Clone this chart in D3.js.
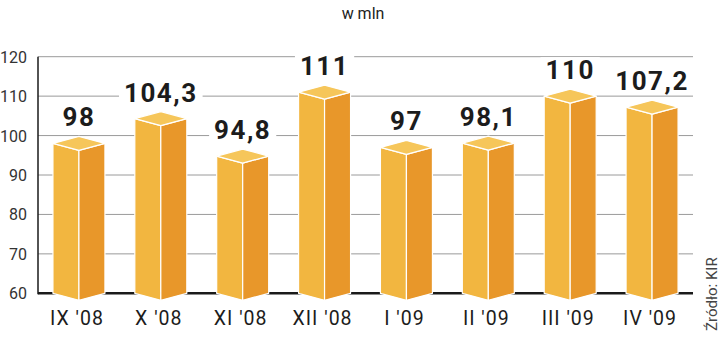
<!DOCTYPE html>
<html>
<head>
<meta charset="utf-8">
<script src="https://cdn.jsdelivr.net/npm/d3@7"></script>
<style>
	body { margin: 0; background: #fff; }
	svg { display: block; font-family: Roboto, "Liberation Sans", sans-serif; }
</style>
</head>
<body>
<script>
var months = ["IX '08", "X '08", "XI '08", "XII '08", "I '09", "II '09", "III '09", "IV '09"];
var values = [98, 104.3, 94.8, 111, 97, 98.1, 110, 107.2];
var valueLabels = ["98", "104,3", "94,8", "111", "97", "98,1", "110", "107,2"];
var yTicks = [60, 70, 80, 90, 100, 110, 120];

var width = 720, height = 339;
var plotLeft = 38, plotRight = 693, plotTop = 56.7, plotBottom = 293.3;
var halfW = 26, depth = 7;

var svg = d3.select('body')
	.append('svg')
	.attr('width', width)
	.attr('height', height);

var xScale = d3.scaleBand()
	.domain(months)
	.range([plotLeft, plotRight]);

var yScale = d3.scaleLinear()
	.domain([60, 120])
	.range([plotBottom, plotTop]);

// title
svg.append('text')
	.attr('x', 363)
	.attr('y', 19)
	.attr('text-anchor', 'middle')
	.attr('font-size', 16)
	.attr('fill', '#222')
	.text('w mln');

// grid lines
svg.selectAll('.grid')
	.data(yTicks.filter(function(d) { return d > 60; }))
	.enter()
	.append('line')
	.attr('x1', plotLeft)
	.attr('x2', plotRight)
	.attr('y1', function(d) { return yScale(d); })
	.attr('y2', function(d) { return yScale(d); })
	.attr('stroke', '#9a9a9a')
	.attr('stroke-width', 1);

svg.append('line')
	.attr('x1', plotLeft)
	.attr('x2', plotRight)
	.attr('y1', plotBottom)
	.attr('y2', plotBottom)
	.attr('stroke', '#1a1a1a')
	.attr('stroke-width', 2.5);

svg.append('line')
	.attr('x1', plotLeft)
	.attr('x2', plotLeft)
	.attr('y1', plotTop)
	.attr('y2', plotBottom + 1)
	.attr('stroke', '#1a1a1a')
	.attr('stroke-width', 1.5);

svg.selectAll('.ytick')
	.data(yTicks)
	.enter()
	.append('text')
	.attr('x', 27)
	.attr('y', function(d) { return yScale(d) + 6; })
	.attr('text-anchor', 'end')
	.attr('font-size', 16)
	.attr('fill', '#333')
	.text(function(d) { return d; });

// bars
var bars = svg.selectAll('.bar')
	.data(values)
	.enter()
	.append('g')
	.attr('class', 'bar');

function cx(i) { return xScale(months[i]) + xScale.bandwidth() / 2; }

bars.append('path')
	.attr('fill', '#f2b640')
	.attr('d', function(d, i) {
		var c = cx(i), t = yScale(d);
		return 'M' + (c - halfW) + ',' + t + 'L' + c + ',' + (t + depth) +
			'L' + c + ',' + (plotBottom + depth) + 'L' + (c - halfW) + ',' + plotBottom + 'Z';
	});

bars.append('path')
	.attr('fill', '#e8972a')
	.attr('d', function(d, i) {
		var c = cx(i), t = yScale(d);
		return 'M' + c + ',' + (t + depth) + 'L' + (c + halfW) + ',' + t +
			'L' + (c + halfW) + ',' + plotBottom + 'L' + c + ',' + (plotBottom + depth) + 'Z';
	});

bars.append('path')
	.attr('fill', '#f6c65a')
	.attr('d', function(d, i) {
		var c = cx(i), t = yScale(d);
		return 'M' + (c - halfW) + ',' + t + 'L' + c + ',' + (t + depth) +
			'L' + (c + halfW) + ',' + t + 'L' + c + ',' + (t - depth) + 'Z';
	});

bars.selectAll('path')
	.attr('stroke', '#fff')
	.attr('stroke-width', 1.2)
	.attr('stroke-linejoin', 'round');

// value labels with white backing
var labels = svg.selectAll('.vlabel')
	.data(values)
	.enter()
	.append('g');

labels.append('rect').attr('fill', '#fff');

labels.append('text')
	.attr('x', function(d, i) { return cx(i); })
	.attr('y', function(d) { return yScale(d) - 17; })
	.attr('text-anchor', 'middle')
	.attr('font-size', 26)
	.attr('font-weight', 700)
	.attr('letter-spacing', 1.5)
	.attr('fill', '#1c1c1c')
	.text(function(d, i) { return valueLabels[i]; });

labels.each(function() {
	var g = d3.select(this);
	var bb = g.select('text').node().getBBox();
	g.select('rect')
		.attr('x', bb.x - 5)
		.attr('y', bb.y + 2)
		.attr('width', bb.width + 10)
		.attr('height', bb.height - 4);
});

// category labels
svg.selectAll('.xlabel')
	.data(months)
	.enter()
	.append('text')
	.attr('x', function(d, i) { return cx(i) - 2; })
	.attr('y', 325)
	.attr('text-anchor', 'middle')
	.attr('font-size', 19.5)
	.attr('letter-spacing', 1)
	.attr('fill', '#1c1c1c')
	.text(function(d) { return d; });

// source
svg.append('text')
	.attr('transform', 'translate(717,331) rotate(-90)')
	.attr('font-size', 15)
	.attr('fill', '#444')
	.text('Źródło: KIR');
</script>
</body>
</html>
